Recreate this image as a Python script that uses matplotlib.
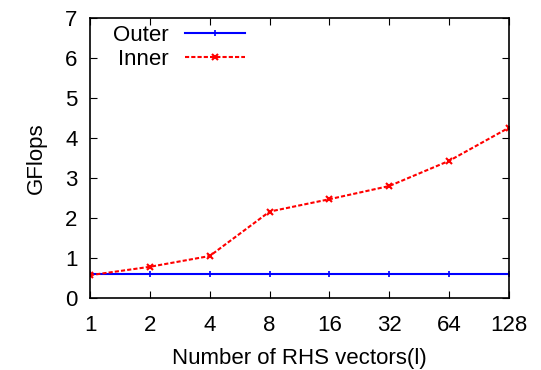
import matplotlib
matplotlib.use('Agg')
import matplotlib.pyplot as plt
from matplotlib.ticker import FixedLocator, FixedFormatter, NullLocator

plt.rcParams['font.family'] = ['Liberation Sans', 'DejaVu Sans']

rhs = [1, 2, 4, 8, 16, 32, 64, 128]
outer = [0.60, 0.60, 0.60, 0.60, 0.60, 0.60, 0.60, 0.60]
inner = [0.57, 0.78, 1.05, 2.16, 2.47, 2.80, 3.43, 4.26]

fig = plt.figure(figsize=(5.41, 3.70), dpi=100)
ax = fig.add_axes([0.1664, 0.1946, 0.941 - 0.1664, 0.9514 - 0.1946])

ax.plot(rhs, outer, color='#0000ff', lw=1.5, marker='+', ms=5, mew=1.2, label='Outer')
ax.plot(rhs, inner, color='#ff0000', lw=1.5, ls=(0, (2, 1)), marker='x', ms=5, mew=1.5, label='Inner')

ax.set_xscale('log', base=2)
ax.set_xlim(1, 128)
ax.set_ylim(0, 7)
ax.xaxis.set_major_locator(FixedLocator(rhs))
ax.xaxis.set_major_formatter(FixedFormatter([str(v) for v in rhs]))
ax.xaxis.set_minor_locator(NullLocator())
ax.set_yticks(range(0, 8))

ax.tick_params(direction='in', top=True, right=True, labelsize=16, length=5)
ax.tick_params(axis='x', pad=12)
ax.tick_params(axis='y', pad=9)
for s in ax.spines.values():
    s.set_linewidth(1.2)

ax.set_xlabel('Number of RHS vectors(l)', fontsize=16, labelpad=9)
ax.set_ylabel('GFlops', fontsize=16, labelpad=13)

ax.legend(loc='upper left', frameon=False, markerfirst=False, fontsize=16,
          handlelength=2.7, borderaxespad=0, borderpad=0.3, labelspacing=0.15,
          handletextpad=0.7, bbox_to_anchor=(0.04, 1.0))

fig.savefig('out.png', dpi=100)
